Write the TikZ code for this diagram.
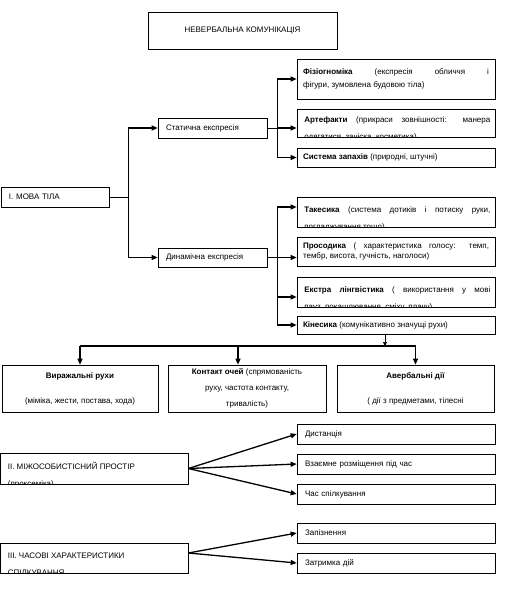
\documentclass[tikz,border=0pt]{standalone}
\usepackage{fontspec}
\setmainfont{Liberation Sans}
\usetikzlibrary{arrows.meta}
\tikzset{
  box/.style={draw, line width=0.7pt, inner sep=0pt, font=\fontsize{8}{13}\selectfont},
  rbox/.style={box, minimum width=198pt, text width=186pt, align=justify},
  cliptext/.style 2 args={path picture={
    \node[anchor=north west, draw=none, minimum width=0pt, minimum height=0pt,
      inner sep=0pt, text width=#1, align=justify, font=\fontsize{8}{17}\selectfont]
      at ([xshift=7pt,yshift=27pt]path picture bounding box.south west) {\noindent\strut #2};}},
  conn/.style={line width=0.7pt},
  arr/.style={-{Triangle[length=6pt,width=5pt]}, line width=1.3pt},
}
\begin{document}
\begin{tikzpicture}[x=1pt,y=-1pt]
  \useasboundingbox (0,0) rectangle (504,612);
  % title
  \node[box, minimum width=189pt, minimum height=37pt](title) at (242.5,30.5) {НЕВЕРБАЛЬНА КОМУНІКАЦІЯ};
  % I. body language
  \node[box, minimum width=108pt, minimum height=20pt, text width=92pt, align=left](mova) at (55,197) {І. МОВА ТІЛА};
  \node[box, minimum width=109pt, minimum height=20pt, text width=93pt, align=left](static) at (212.5,128) {Статична експресія};
  \node[box, minimum width=109pt, minimum height=19pt, text width=93pt, align=left](dyn) at (212.5,257.5) {Динамічна експресія};
  \node[rbox, minimum height=40pt](fiz) at (396,79) {\textbf{Фізіогноміка} (експресія обличчя і\linebreak фігури, зумовлена будовою тіла)};
  \node[box, minimum width=198pt, minimum height=28pt,
    cliptext={186pt}{\textbf{Артефакти} (прикраси зовнішності: манера\linebreak одягатися, зачіска, косметика)}](art) at (396,123) {};
  \node[rbox, minimum height=19pt](sys) at (396,157.5) {\textbf{Система запахів} (природні, штучні)};
  \node[box, minimum width=198pt, minimum height=30pt,
    cliptext={186pt}{\textbf{Такесика} (система дотиків і потиску руки,\linebreak погладжування тощо)}](tak) at (396,212) {};
  \node[rbox, minimum height=29pt, font=\fontsize{8}{10}\selectfont](pros) at (396,251.5) {\textbf{Просодика} ( характеристика голосу: темп,\linebreak тембр, висота, гучність, наголоси)};
  \node[box, minimum width=198pt, minimum height=30pt,
    cliptext={186pt}{\textbf{Екстра лінгвістика} ( використання у мові\linebreak пауз, покашлювання, сміху, плачу)}](extra) at (396,292) {};
  \node[rbox, minimum height=18pt](kin) at (396,325) {\textbf{Кінесика} (комунікативно значущі рухи)};
  \node[box, minimum width=156pt, minimum height=47pt, align=center, font=\fontsize{8}{16}\selectfont](expr) at (80,388.5) {\textbf{Виражальні рухи}\\[9pt](міміка, жести, постава, хода)};
  \node[box, minimum width=158pt, minimum height=47pt, align=center, font=\fontsize{8}{16}\selectfont](eye) at (247,388.5) {\textbf{Контакт очей} (спрямованість\\руху, частота контакту,\\тривалість)};
  \node[box, minimum width=157pt, minimum height=47pt, align=center, font=\fontsize{8}{16}\selectfont](averb) at (415.5,388.5) {\textbf{Авербальні дії}\\[9pt]( дії з предметами, тілесні};
  % II. space
  \node[box, minimum width=187.5pt, minimum height=31pt,
    cliptext={171pt}{ІІ. МІЖОСОБИСТІСНИЙ ПРОСТІР\\(проксеміка)}](prox) at (94.25,468.5) {};
  \node[box, minimum width=198pt, minimum height=20pt, text width=182pt, align=left](dist) at (396,434) {Дистанція};
  \node[box, minimum width=198pt, minimum height=20pt, text width=182pt, align=left](mutual) at (396,464) {Взаємне розміщення під час};
  \node[box, minimum width=198pt, minimum height=20pt, text width=182pt, align=left](time) at (396,494) {Час спілкування};
  % III. time
  \node[box, minimum width=187.5pt, minimum height=30pt,
    cliptext={171pt}{ІІІ. ЧАСОВІ ХАРАКТЕРИСТИКИ\\СПІЛКУВАННЯ}](chas) at (94.25,558) {};
  \node[box, minimum width=198pt, minimum height=20pt, text width=182pt, align=left](late) at (396,533) {Запізнення};
  \node[box, minimum width=198pt, minimum height=20pt, text width=182pt, align=left](delay) at (396,563) {Затримка дій};

  % connectors of body language
  \coordinate (j1) at ([xshift=19pt]mova.east);
  \draw[conn] (mova.east) -- (j1);
  \draw[conn] (j1 |- static.west) -- (j1 |- dyn.west);
  \draw[arr] (j1 |- static.west) -- (static.west);
  \draw[arr] (j1 |- dyn.west) -- (dyn.west);
  \coordinate (j2) at ([xshift=10pt]static.east);
  \draw[conn] (static.east) -- (j2);
  \draw[conn] (j2 |- fiz.west) -- (j2 |- sys.west);
  \draw[arr] (j2 |- fiz.west) -- (fiz.west);
  \draw[arr] (j2) -- (art.west |- j2);
  \draw[arr] (j2 |- sys.west) -- (sys.west);
  \coordinate (j3) at ([xshift=10pt]dyn.east);
  \coordinate (t1) at ([yshift=5pt]tak.west);
  \coordinate (t3) at ([yshift=-5pt]extra.west);
  \draw[conn] (dyn.east) -- (j3);
  \draw[conn] (j3 |- t1) -- (j3 |- kin.west);
  \draw[arr] (j3 |- t1) -- (t1);
  \draw[arr] (j3) -- (pros.west |- j3);
  \draw[arr] (j3 |- t3) -- (t3);
  \draw[arr] (j3 |- kin.west) -- (kin.west);
  % down to the three kinds
  \coordinate (bus) at (385,346);
  \coordinate (e) at (238,346);
  \draw[conn, -{Triangle[length=4pt,width=4pt]}] (kin.south -| bus) -- (bus);
  \draw[line width=1.3pt] (expr.north |- bus) -- (averb.north |- bus);
  \draw[arr] (expr.north |- bus) -- (expr.north);
  \draw[arr] (e) -- (e |- eye.north);
  \draw[arr] (averb.north |- bus) -- (averb.north);
  % space and time
  \foreach \t in {dist,mutual,time}
    \draw[arr] (prox.east) -- (\t.west);
  \coordinate (c0) at ([yshift=5pt]chas.east);
  \foreach \t in {late,delay}
    \draw[arr] (c0) -- (\t.west);
\end{tikzpicture}
\end{document}
